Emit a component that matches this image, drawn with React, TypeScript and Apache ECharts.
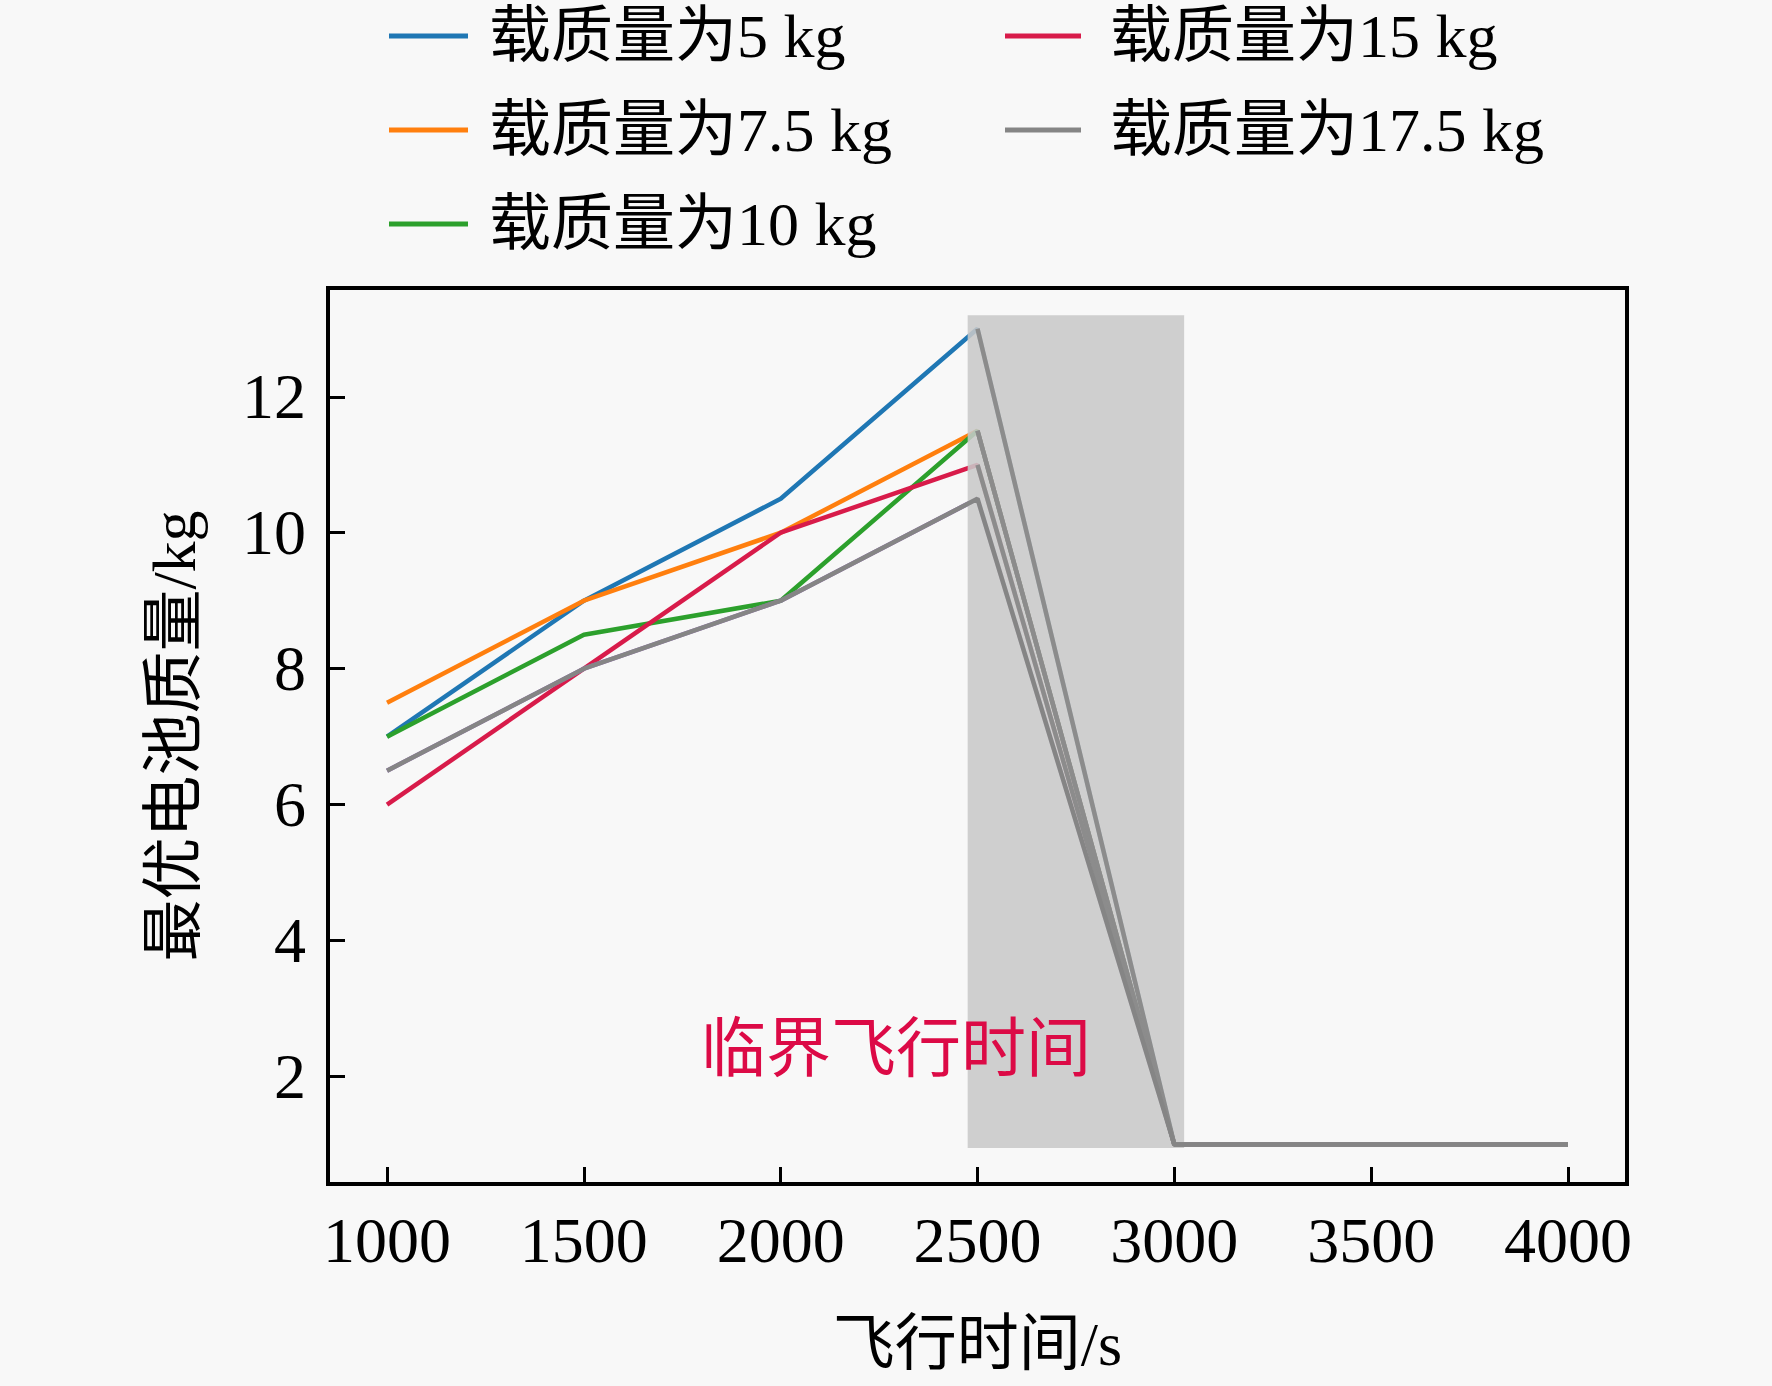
import React, { useEffect, useRef } from 'react';
import * as echarts from 'echarts';

// 飞行时间 (s)
const flightTimes = [1000, 1500, 2000, 2500, 3000, 3500, 4000];
const xTicks = [1000, 1500, 2000, 2500, 3000, 3500, 4000];
const yTicks = [2, 4, 6, 8, 10, 12];

// 最优电池质量 (kg)
const load5 = [7, 9, 10.5, 13, 1, 1, 1];
const load7_5 = [7.5, 9, 10, 11.5, 1, 1, 1];
const load10 = [7, 8.5, 9, 11.5, 1, 1, 1];
const load15 = [6, 8, 10, 11, 1, 1, 1];
const load17_5 = [6.5, 8, 9, 10.5, 1, 1, 1];
// 紫色曲线（图例中未列出，与灰线重合）
const hiddenPurple = [6.5, 8, 9, 10.5, 1, 1, 1];

// 临界飞行时间区域: [x0, y0, x1, y1]
const criticalZone = [[2475, 0.95, 3025, 13.2]];

const FONT = "'Liberation Serif', 'Times New Roman', 'Noto Sans CJK SC', serif";
const LW = 4.5;

const curves = [
  { name: '载质量为5 kg', color: '#1f77b4', values: load5 },
  { name: '载质量为7.5 kg', color: '#ff7f0e', values: load7_5 },
  { name: '载质量为10 kg', color: '#2ca02c', values: load10 },
  { name: '载质量为15 kg', color: '#d81b4a', values: load15 },
];

const App: React.FC = () => {
  const chartRef = useRef<HTMLDivElement>(null);

  useEffect(() => {
    document.body.style.margin = '0';
    if (!chartRef.current) return;
    const chart = echarts.init(chartRef.current, undefined, { renderer: 'svg' });

    const toPairs = (vals: number[]) => flightTimes.map((t, i) => [t, vals[i]]);

    const colored = curves.map((c) => ({
      name: c.name,
      type: 'line',
      z: 2,
      data: toPairs(c.values),
      showSymbol: false,
      lineStyle: { color: c.color, width: LW },
      itemStyle: { color: c.color },
    }));

    // 临界区内的下降段以灰色叠加
    const grayOverlay = curves.map((c) => ({
      name: c.name + '-overlay',
      type: 'line',
      z: 4,
      data: toPairs(c.values).slice(3),
      showSymbol: false,
      lineStyle: { color: '#8c8c8c', width: LW },
      itemStyle: { color: '#8c8c8c' },
    }));

    const legendBase = {
      orient: 'vertical',
      top: 0,
      icon: 'rect',
      itemHeight: 5,
      itemGap: 32,
    };

    const option = {
      animation: false,
      backgroundColor: '#f8f8f8',
      textStyle: { fontFamily: FONT },
      grid: {
        left: 328,
        right: 145,
        top: 288,
        bottom: 202,
        show: true,
        borderColor: '#000',
        borderWidth: 4,
        backgroundColor: 'transparent',
      },
      legend: [
        {
          ...legendBase,
          data: ['载质量为5 kg', '载质量为7.5 kg', '载质量为10 kg'],
          left: 384,
          itemWidth: 79,
          textStyle: { fontFamily: FONT, fontSize: 62, color: '#000', padding: [0, 0, 0, 16] },
        },
        {
          ...legendBase,
          data: ['载质量为15 kg', '载质量为17.5 kg'],
          left: 1000,
          itemWidth: 76,
          textStyle: { fontFamily: FONT, fontSize: 62, color: '#000', padding: [0, 0, 0, 24] },
        },
      ],
      xAxis: {
        type: 'value',
        min: 850,
        max: 4150,
        name: '飞行时间/s',
        nameLocation: 'middle',
        nameGap: 129,
        nameTextStyle: { fontFamily: FONT, fontSize: 62, color: '#000' },
        axisLine: { show: true, lineStyle: { color: '#000', width: 4 } },
        axisTick: { show: true, inside: true, length: 17, customValues: xTicks, lineStyle: { color: '#000', width: 3 } },
        axisLabel: {
          customValues: xTicks,
          formatter: (v: number) => String(v),
          fontFamily: FONT,
          fontSize: 64,
          color: '#000',
          margin: 24,
        },
        splitLine: { show: false },
      },
      yAxis: {
        type: 'value',
        min: 0.42,
        max: 13.6,
        name: '最优电池质量/kg',
        nameLocation: 'middle',
        nameGap: 123,
        nameTextStyle: { fontFamily: FONT, fontSize: 62, color: '#000' },
        axisLine: { show: true, lineStyle: { color: '#000', width: 4 } },
        axisTick: { show: true, inside: true, length: 17, customValues: yTicks, lineStyle: { color: '#000', width: 3 } },
        axisLabel: {
          customValues: yTicks,
          formatter: (v: number) => String(v),
          fontFamily: FONT,
          fontSize: 64,
          color: '#000',
          margin: 22,
        },
        splitLine: { show: false },
      },
      graphic: [
        {
          type: 'text',
          left: 701,
          top: 1016,
          z: 10,
          style: {
            text: '临界飞行时间',
            fontFamily: FONT,
            fontSize: 65,
            fill: '#dc0a46',
          },
        },
      ],
      series: [
        ...colored,
        {
          name: '载质量为12.5 kg',
          type: 'line',
          z: 2,
          data: toPairs(hiddenPurple),
          showSymbol: false,
          lineStyle: { color: '#9467bd', width: LW },
          itemStyle: { color: '#9467bd' },
        },
        {
          name: 'critical-zone',
          type: 'custom',
          z: 3,
          silent: true,
          encode: { x: [0, 2], y: [1, 3] },
          data: criticalZone,
          renderItem: (_params: any, api: any) => {
            const p0 = api.coord([api.value(0), api.value(3)]);
            const p1 = api.coord([api.value(2), api.value(1)]);
            return {
              type: 'rect',
              shape: { x: p0[0], y: p0[1], width: p1[0] - p0[0], height: p1[1] - p0[1] },
              style: { fill: 'rgba(200,200,200,0.88)' },
            };
          },
        },
        ...grayOverlay,
        {
          name: '载质量为17.5 kg',
          type: 'line',
          z: 5,
          data: toPairs(load17_5),
          showSymbol: false,
          lineStyle: { color: '#858585', width: LW },
          itemStyle: { color: '#858585' },
        },
      ],
    };

    chart.setOption(option as any);

    const handleResize = () => chart.resize();
    window.addEventListener('resize', handleResize);
    return () => {
      window.removeEventListener('resize', handleResize);
      chart.dispose();
    };
  }, []);

  return <div ref={chartRef} style={{ width: '1772px', height: '1386px' }} />;
};

export default App;
